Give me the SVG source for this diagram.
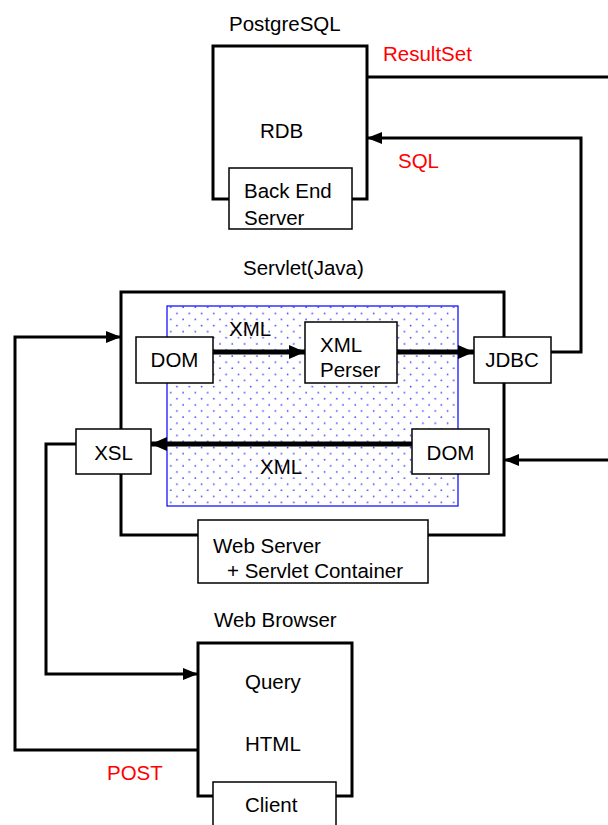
<svg xmlns="http://www.w3.org/2000/svg" width="608" height="825" viewBox="0 0 608 825">
<style>
text{font-family:"Liberation Sans",Arial,sans-serif;font-size:20.5px;fill:#000}
.red{fill:#ff0000}
.thick{fill:none;stroke:#000;stroke-width:3}
.box{fill:#fff;stroke:#000;stroke-width:1.5}
.conn{fill:none;stroke:#000;stroke-width:3}
.fat{fill:none;stroke:#000;stroke-width:5}
</style>
<defs>
<marker id="ah" markerUnits="userSpaceOnUse" markerWidth="15" markerHeight="12" refX="15" refY="6" orient="auto">
<path d="M0,0 L15,6 L0,12 z" fill="#000"/>
</marker>
<marker id="ahb" markerUnits="userSpaceOnUse" markerWidth="16" markerHeight="14" refX="16" refY="7" orient="auto">
<path d="M0,0 L16,7 L0,14 z" fill="#000"/>
</marker>
<pattern id="dots" patternUnits="userSpaceOnUse" x="204.7" y="389.7" width="12.3" height="12.2">
<rect width="12.3" height="12.2" fill="#fff"/>
<circle cx="3" cy="3" r="0.85" fill="#3a3aff"/>
<circle cx="9.15" cy="9.1" r="0.85" fill="#3a3aff"/>
</pattern>
</defs>

<g id="postgresql">
<text x="229" y="31">PostgreSQL</text>
<rect class="thick" x="213" y="46" width="154" height="153"/>
<text x="260" y="138">RDB</text>
</g>
<g id="backend">
<rect class="box" x="229" y="168" width="123" height="61"/>
<text x="244" y="198">Back End</text>
<text x="244" y="225">Server</text>
</g>

<g id="servlet">
<text x="243" y="275">Servlet(Java)</text>
<rect class="thick" x="121" y="292" width="383" height="243"/>
<rect x="167" y="306" width="291" height="200" fill="url(#dots)" stroke="#0000ff" stroke-width="1.2"/>
</g>
<g id="webserver">
<rect class="box" x="198" y="520" width="230" height="63"/>
<text x="213" y="553">Web Server</text>
<text x="227" y="578">+ Servlet Container</text>
</g>

<g id="connectors">
<line class="conn" x1="367" y1="77" x2="608" y2="77"/>
<polyline class="conn" points="550,352 581,352 581,138 367,138" marker-end="url(#ah)"/>
<line class="conn" x1="608" y1="460" x2="504" y2="460" marker-end="url(#ah)"/>
<line class="fat" x1="213" y1="352" x2="305" y2="352" marker-end="url(#ahb)"/>
<line class="fat" x1="397" y1="352" x2="474" y2="352" marker-end="url(#ahb)"/>
<line class="fat" x1="412" y1="444" x2="151" y2="444" marker-end="url(#ahb)"/>
<polyline class="conn" points="198,750 15,750 15,337 121,337" marker-end="url(#ah)"/>
<polyline class="conn" points="76,444 46,444 46,674 198,674" marker-end="url(#ah)"/>
</g>

<g id="dom1">
<rect class="box" x="136" y="337" width="77" height="46"/>
<text x="174.5" y="367" text-anchor="middle">DOM</text>
</g>
<g id="xmlperser">
<rect class="box" x="305" y="322" width="92" height="61"/>
<text x="320" y="352">XML</text>
<text x="320" y="377">Perser</text>
</g>
<g id="jdbc">
<rect class="box" x="474" y="337" width="77" height="46"/>
<text x="512" y="367" text-anchor="middle">JDBC</text>
</g>
<g id="xsl">
<rect class="box" x="76" y="429" width="75" height="45"/>
<text x="113.5" y="460" text-anchor="middle">XSL</text>
</g>
<g id="dom2">
<rect class="box" x="412" y="429" width="77" height="45"/>
<text x="450.5" y="460" text-anchor="middle">DOM</text>
</g>

<g id="labels">
<text class="red" x="383" y="61">ResultSet</text>
<text class="red" x="398" y="168">SQL</text>
<text x="229" y="336">XML</text>
<text x="260" y="474">XML</text>
<text class="red" x="107" y="780">POST</text>
</g>

<g id="webbrowser">
<text x="214" y="627">Web Browser</text>
<rect class="thick" x="198" y="643" width="154" height="153"/>
<text x="245" y="689">Query</text>
<text x="245" y="751">HTML</text>
</g>
<g id="client">
<rect class="box" x="213" y="782" width="123" height="60"/>
<text x="245" y="812">Client</text>
</g>
</svg>
